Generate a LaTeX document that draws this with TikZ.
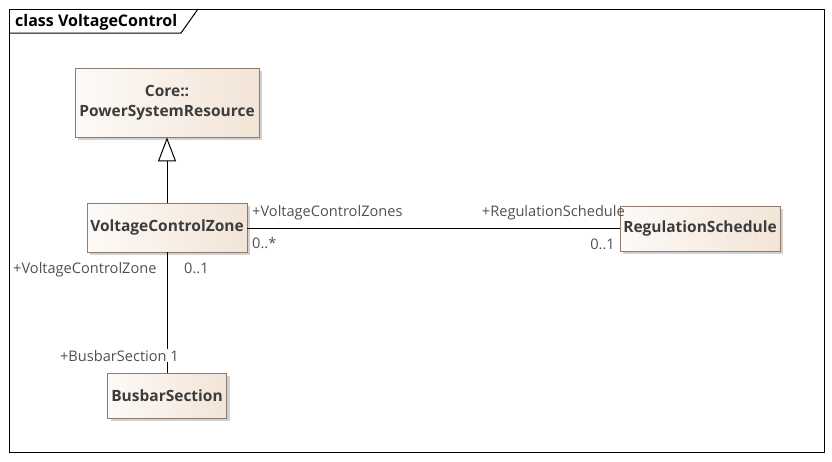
\documentclass[tikz,border=0pt]{standalone}
\usepackage{fontspec}
\setmainfont{Open Sans}
\usetikzlibrary{arrows.meta,shadows}
\definecolor{boxline}{HTML}{8E7B70}
\definecolor{boxleft}{HTML}{FDFAF7}
\definecolor{boxright}{HTML}{F3E4D7}
\definecolor{txt}{HTML}{505050}
\definecolor{ttl}{HTML}{3C3C3C}
\begin{document}
\begin{tikzpicture}[x=1pt,y=-1pt,
  umlbox/.style={draw=boxline,line width=0.8pt,left color=boxleft,right color=boxright,
    shading angle=90,
    drop shadow={shadow xshift=3pt,shadow yshift=-3pt,fill=black!30,opacity=0.6},
    inner sep=0pt,align=center,text=ttl,font=\fontsize{15.5}{20}\selectfont\bfseries},
  lbl/.style={text=txt,font=\fontsize{14.6}{16}\selectfont,inner sep=0pt},
  conn/.style={line width=1pt,draw=black}]
\useasboundingbox (0,0) rectangle (832,461);
% frame
\draw[line width=1pt] (9,9) rectangle (824,452);
\draw[line width=1pt] (9,33) -- (181,33) -- (198,9);
\node[anchor=base west,inner sep=0pt,font=\fontsize{16}{18}\selectfont\bfseries] (title) at (15,26) {class VoltageControl};
% boxes
\node[umlbox,minimum width=184pt,minimum height=69pt] (psr) at (167,102.5) {Core::\\PowerSystemResource};
\node[umlbox,minimum width=160pt,minimum height=49pt] (vcz) at (167,227.5) {VoltageControlZone};
\node[umlbox,minimum width=160pt,minimum height=45pt] (rs) at (700,228.5) {RegulationSchedule};
\node[umlbox,minimum width=119pt,minimum height=45pt] (bs) at (167,395.5) {BusbarSection};
% connectors
\draw[conn,-{Triangle[open,width=18pt,length=24pt,fill=white]}] (vcz.north) -- (psr.south);
\draw[conn] (vcz.east |- 0,228) -- (rs.west |- 0,228);
\draw[conn] (vcz.south) -- (bs.north);
% labels
\node[lbl,anchor=base west] (l1) at (252,216) {+VoltageControlZones};
\node[lbl,anchor=base west] (l2) at (252,248) {0..*};
\node[lbl,anchor=base east] (l3) at (625,216) {+RegulationSchedule};
\node[lbl,anchor=base east] (l4) at (615,249) {0..1};
\node[lbl,anchor=base west] (l5) at (13,273) {+VoltageControlZone};
\node[lbl,anchor=base west] (l6) at (184,273) {0..1};
\node[lbl,anchor=base east,fill=white,inner ysep=1pt] (l7) at (179,361) {+BusbarSection 1};
\end{tikzpicture}
\end{document}
